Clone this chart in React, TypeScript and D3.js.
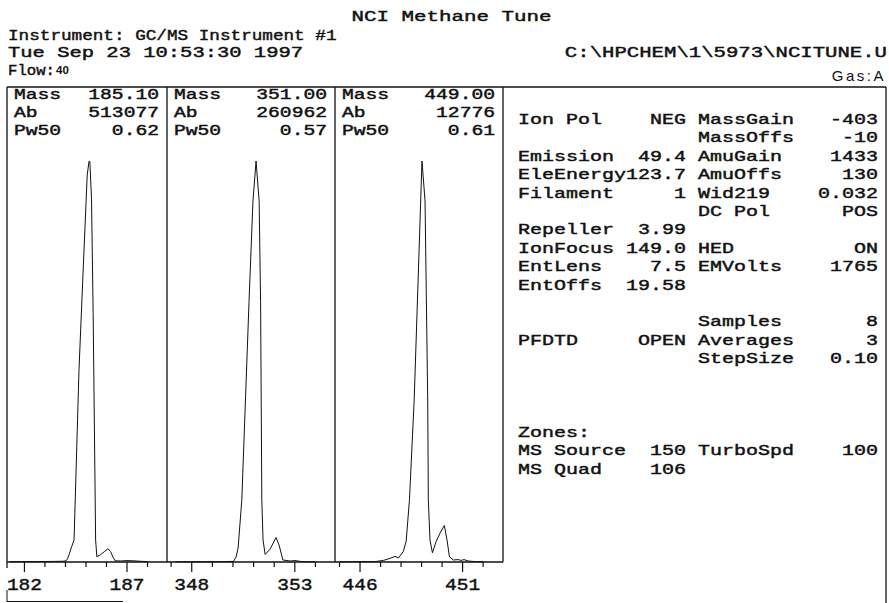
import * as d3 from 'd3';

// ---- data ----
const panelMass = ['185.10', '351.00', '449.00'];
const panelAb = ['513077', '260962', '12776'];
const panelPw50 = ['0.62', '0.57', '0.61'];
const massDomains = [
  [181.15, 188.95],
  [346.8, 354.95],
  [444.78, 452.97],
];
const tickLabels = [
  [182, 187],
  [348, 353],
  [446, 451],
];

// relative abundance (%) vs mass for each profile
const peak185 = [
  [181.3, 0.1], [182.5, 0.1], [183.5, 0.15], [183.9, 0.2], [184.03, 0.3], [184.1, 0.8],
  [184.2, 2.2], [184.3, 3.8], [184.42, 5.5], [184.66, 48], [184.87, 73.6], [185.06, 96.5],
  [185.15, 100], [185.19, 99.8], [185.27, 90.5], [185.35, 62], [185.47, 5.5], [185.53, 1.3],
  [185.7, 1.8], [185.9, 2.6], [186.07, 3.3], [186.2, 2.6], [186.32, 1.2], [186.42, 0.3],
  [186.7, 0.25], [187.0, 0.35], [187.3, 0.3], [187.6, 0.2], [188.0, 0.1],
];
const peak351 = [
  [347.2, 0.05], [348.5, 0.05], [349.5, 0.1], [350.02, 0.15], [350.15, 1.2], [350.25, 3.5],
  [350.43, 15.5], [350.78, 65], [350.97, 90], [351.12, 100], [351.27, 90], [351.34, 65],
  [351.4, 15.5], [351.46, 5.5], [351.56, 1.9], [351.8, 3.2], [352.09, 6.1], [352.24, 4.2],
  [352.42, 0.5], [352.77, 0.25], [353.01, 0.35], [353.35, 0.1], [353.98, 0.05],
];
const peak449 = [
  [445.02, 0.05], [446.0, 0.1], [446.73, 0.1], [447.14, 0.4], [447.46, 0.9], [447.71, 1.4],
  [447.87, 1.0], [448.11, 2.6], [448.25, 5.2], [448.41, 15.5], [448.64, 40.4], [448.83, 70],
  [449.02, 100], [449.17, 90], [449.3, 40.4], [449.33, 15.5], [449.41, 5.5], [449.53, 2.3],
  [449.71, 5.1], [449.9, 7.2], [450.11, 9.1], [450.24, 5.5], [450.36, 1.3], [450.55, 0.5],
  [450.78, 0.6], [450.93, 0.4], [451.07, 0.6], [451.27, 0.25], [451.61, 0.1], [452.0, 0.05],
];
const peaks = [peak185, peak351, peak449];

// tune parameters: [label, value, label, value]
const paramRows = [
  ['Ion Pol', 'NEG', 'MassGain', '-403'],
  ['', '', 'MassOffs', '-10'],
  ['Emission', '49.4', 'AmuGain', '1433'],
  ['EleEnergy', '123.7', 'AmuOffs', '130'],
  ['Filament', '1', 'Wid219', '0.032'],
  ['', '', 'DC Pol', 'POS'],
  ['Repeller', '3.99', '', ''],
  ['IonFocus', '149.0', 'HED', 'ON'],
  ['EntLens', '7.5', 'EMVolts', '1765'],
  ['EntOffs', '19.58', '', ''],
  ['', '', '', ''],
  ['', '', 'Samples', '8'],
  ['PFDTD', 'OPEN', 'Averages', '3'],
  ['', '', 'StepSize', '0.10'],
  ['', '', '', ''],
  ['', '', '', ''],
  ['', '', '', ''],
  ['Zones:', '', '', ''],
  ['MS Source', '150', 'TurboSpd', '100'],
  ['MS Quad', '106', '', ''],
];

const W = 889;
const H = 603;
const FONT = "'Liberation Mono', 'DejaVu Sans Mono', monospace";
const SANS = "'Liberation Sans', Arial, sans-serif";
const INK = '#111';

// panel edges and plot frame
const edges = [7, 167, 335, 503];
const top = 87;
const base = 562;
const yScale = d3.scaleLinear().domain([0, 100]).range([base, 161]);

// typewriter-ish text: regular mono with a thin outline, stretched to the printout's pitch
function Mono({ x, y, pitch, size = 15.5, anchor = 'start', children }: any) {
  const sx = pitch / (0.6 * size);
  return (
    <text
      transform={`translate(${x},${y}) scale(${sx.toFixed(3)},1)`}
      fontFamily={FONT}
      fontSize={size}
      textAnchor={anchor}
      fill={INK}
      stroke={INK}
      strokeWidth={0.45}
      style={{ whiteSpace: 'pre' }}
    >
      {children}
    </text>
  );
}

function Panel({ i }: { i: number }) {
  const x0 = edges[i];
  const x1 = edges[i + 1];
  const x = d3.scaleLinear().domain(massDomains[i]).range([x0, x1]);
  const line = d3
    .line<number[]>()
    .x((d) => x(d[0]))
    .y((d) => yScale(d[1]));
  const [lo, hi] = massDomains[i];
  const ticks = d3.range(Math.ceil(lo), Math.floor(hi) + 1);
  const rows = [
    ['Mass', panelMass[i]],
    ['Ab', panelAb[i]],
    ['Pw50', panelPw50[i]],
  ];
  return (
    <g>
      {rows.map((r, k) => (
        <g key={k}>
          <Mono x={x0 + 7} y={98.5 + k * 18} pitch={11.8} size={15}>{r[0]}</Mono>
          <Mono x={x1 - 8} y={98.5 + k * 18} pitch={11.8} size={15} anchor="end">{r[1]}</Mono>
        </g>
      ))}
      <path d={line(peaks[i]) || ''} fill="none" stroke={INK} strokeWidth={1} strokeLinejoin="round" />
      {ticks.map((t) => {
        const major = tickLabels[i].includes(t);
        return (
          <line key={t} x1={x(t)} x2={x(t)} y1={base} y2={base + (major ? 10 : 5)} stroke={INK} strokeWidth={1.2} />
        );
      })}
      {tickLabels[i].map((t) => (
        <Mono key={t} x={x(t)} y={590} pitch={11.7} size={17} anchor="middle">{String(t)}</Mono>
      ))}
    </g>
  );
}

export default function App() {
  const rowY = (k: number) => 124 + k * 18.4;
  return (
    <svg
      width={W}
      height={H}
      style={{ position: 'absolute', left: 0, top: 0, background: '#fff' }}
    >
      {/* header */}
      <Mono x={451.5} y={21} pitch={12.5} anchor="middle">NCI Methane Tune</Mono>
      <Mono x={8} y={39.5} pitch={10.6}>Instrument: GC/MS Instrument #1</Mono>
      <Mono x={8} y={57} pitch={12.3}>Tue Sep 23 10:53:30 1997</Mono>
      <Mono x={887} y={57} pitch={12.4} anchor="end">C:\HPCHEM\1\5973\NCITUNE.U</Mono>
      <Mono x={8} y={74.5} pitch={9.4}>Flow:</Mono>
      <text x={56} y={74} fontFamily={SANS} fontSize={11.5} fontWeight={700} fill={INK}>40</text>
      <text
        x={886}
        y={81}
        fontFamily={SANS}
        fontSize={15}
        fill={INK}
        textAnchor="end"
        letterSpacing={2.5}
      >
        Gas:A
      </text>

      {/* frame */}
      <g stroke={INK} strokeWidth={1.3} fill="none">
        <line x1={7} x2={886} y1={top} y2={top} />
        <line x1={7} x2={7} y1={top} y2={568} />
        {edges.slice(1).map((e) => (
          <line key={e} x1={e} x2={e} y1={top} y2={base} />
        ))}
        <line x1={886} x2={886} y1={top} y2={H} />
        <line x1={7} x2={503} y1={base} y2={base} />
        <line x1={7} x2={7} y1={590} y2={602} strokeWidth={1} />
        <line x1={7} x2={123} y1={601.5} y2={601.5} strokeWidth={1} />
      </g>

      {[0, 1, 2].map((i) => (
        <Panel key={i} i={i} />
      ))}

      {/* tune parameter table */}
      {paramRows.map((r, k) => (
        <g key={k}>
          {r[0] && <Mono x={518} y={rowY(k)} pitch={12}>{r[0]}</Mono>}
          {r[1] && <Mono x={686} y={rowY(k)} pitch={12} anchor="end">{r[1]}</Mono>}
          {r[2] && <Mono x={698} y={rowY(k)} pitch={12}>{r[2]}</Mono>}
          {r[3] && <Mono x={878} y={rowY(k)} pitch={12} anchor="end">{r[3]}</Mono>}
        </g>
      ))}
    </svg>
  );
}
